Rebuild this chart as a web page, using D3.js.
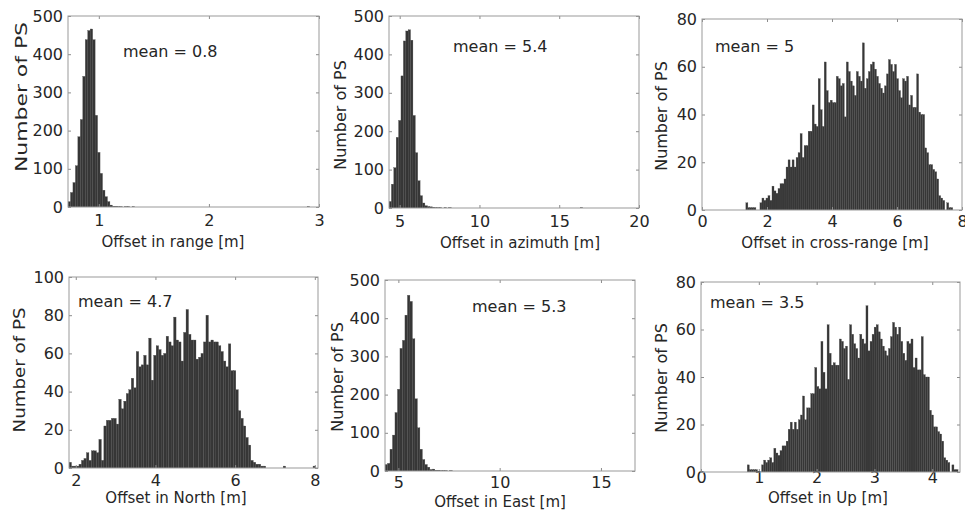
<!DOCTYPE html>
<html>
<head>
<meta charset="utf-8">
<script src="https://cdn.jsdelivr.net/npm/d3@7"></script>
<style>
  body { margin: 0; background: #fff; }
  text { font-family: "DejaVu Sans", sans-serif; fill: #262626; }
</style>
</head>
<body>
<svg id="chart" width="965" height="516"></svg>
<script>
// histogram counts, one value per bin
const rangeCounts = [14, 38, 64, 108, 184, 229, 342, 438, 462, 466, 438, 240, 143, 88, 44, 27, 14, 5, 2, 2,
  1, 1, 0, 1, 1, 0, 1, 0, 0, 0, 0, 0, 0, 0, 0, 0, 0, 0, 0, 0,
  0, 0, 0, 0, 0, 0, 0, 0, 0, 0, 0, 0, 0, 0, 0, 0, 0, 0, 0, 0,
  0, 0, 0, 0, 0, 0, 0, 0, 0, 0, 0, 0, 0, 0, 0, 0, 0, 0, 0, 0,
  0, 0, 0, 0, 0, 0, 0, 0, 0, 0, 0, 0, 0, 0, 0, 0, 0, 1, 0, 0];
const azimuthCounts = [17, 62, 105, 184, 228, 344, 435, 461, 464, 437, 241, 144, 71, 32, 13, 6, 4, 3, 2, 1,
  1, 1, 0, 1, 0, 1, 0, 0, 0, 0, 0, 0, 0, 0, 0, 0, 0, 0, 0, 0,
  0, 0, 0, 0, 0, 0, 0, 0, 0, 0, 0, 0, 0, 0, 0, 0, 0, 0, 0, 0,
  0, 0, 0, 0, 0, 0, 0, 0, 0, 0, 0, 0, 0, 0, 0, 0, 0, 0, 0, 0,
  1, 0, 0, 0, 0, 0, 0, 0, 0, 0, 0, 0, 0, 0, 0, 0, 0, 0, 0, 0];
const crossCounts = [3, 1, 1, 1, 1, 0, 0, 3, 5, 4, 5, 6, 4, 10, 8, 7, 9, 11, 11, 13,
  18, 21, 18, 21, 18, 22, 24, 32, 22, 27, 27, 33, 33, 44, 36, 35, 55, 42, 35, 62,
  50, 45, 46, 45, 45, 56, 55, 52, 53, 39, 62, 58, 54, 52, 48, 58, 56, 54, 70, 51,
  55, 58, 61, 62, 59, 56, 53, 51, 49, 52, 57, 63, 61, 58, 61, 55, 50, 47, 55, 54,
  56, 44, 48, 43, 43, 57, 41, 40, 40, 26, 24, 19, 19, 17, 16, 13, 6, 5, 4, 0,
  3, 1, 1];
const northCounts = [3, 1, 1, 1, 2, 4, 5, 8, 4, 9, 9, 8, 15, 4, 22, 25, 25, 26, 26, 23,
  36, 31, 35, 39, 41, 47, 42, 61, 53, 54, 59, 54, 68, 46, 59, 64, 62, 59, 60, 69,
  66, 64, 79, 67, 66, 56, 71, 83, 70, 67, 67, 57, 58, 60, 66, 80, 66, 67, 66, 66,
  64, 61, 56, 53, 65, 51, 51, 41, 30, 26, 22, 16, 12, 4, 3, 2, 2, 1, 1, 0,
  0, 0, 0, 0, 0, 0, 1, 0, 0, 0, 0, 0, 0, 0, 0, 0, 0, 0, 1, 0];
const eastCounts = [17, 20, 57, 94, 153, 214, 321, 342, 408, 460, 444, 346, 189, 113, 57, 30, 17, 10, 4, 5,
  2, 2, 1, 1, 1, 0, 1, 0, 0, 0, 0, 0, 0, 0, 0, 0, 0, 0, 0, 0,
  0, 0, 0, 0, 0, 0, 0, 0, 0, 0, 0, 0, 0, 0, 0, 0, 0, 0, 0, 0,
  0, 0, 0, 0, 0, 0, 0, 0, 0, 0, 0, 0, 0, 0, 0, 0, 0, 0, 0, 0,
  0, 0, 0, 0, 0, 0, 0, 0, 0, 0, 0, 0, 0, 0, 0, 0, 0, 0, 0, 0];
const upCounts = [3, 1, 1, 1, 1, 0, 0, 3, 5, 4, 5, 6, 4, 10, 8, 7, 9, 11, 11, 13,
  18, 21, 18, 21, 18, 22, 24, 32, 22, 27, 27, 33, 33, 44, 36, 35, 55, 42, 35, 62,
  50, 45, 46, 45, 45, 56, 55, 52, 53, 39, 62, 58, 54, 52, 48, 58, 56, 54, 70, 51,
  55, 58, 61, 62, 59, 56, 53, 51, 49, 52, 57, 63, 61, 58, 61, 55, 50, 47, 55, 54,
  56, 44, 48, 43, 43, 57, 41, 40, 40, 26, 24, 19, 19, 17, 16, 13, 6, 5, 4, 0,
  3, 1, 1];

// first bin edge and bin width [m]
const binStarts = [0.72, 4.33, 1.35, 1.83, 4.34, 0.8];
const binWidths = [0.0224, 0.15, 0.0618, 0.0625, 0.123, 0.0354];

// axis limits and ticks
const xDomains = [[0.72, 3], [4.33, 20], [0, 8], [1.83, 8.08], [4.34, 16.68], [0, 4.48]];
const xTicks = [[1, 2, 3], [5, 10, 15, 20], [0, 2, 4, 6, 8], [2, 4, 6, 8], [5, 10, 15], [0, 1, 2, 3, 4]];
const yMaxes = [500, 500, 80, 100, 500, 80];
const yTicks = [d3.range(0, 501, 100), d3.range(0, 501, 100), d3.range(0, 81, 20),
  d3.range(0, 101, 20), d3.range(0, 501, 100), d3.range(0, 81, 20)];

const xLabels = ["Offset in range [m]", "Offset in azimuth [m]", "Offset in cross-range [m]",
  "Offset in North [m]", "Offset in East [m]", "Offset in Up [m]"];
const meanLabels = ["mean = 0.8", "mean = 5.4", "mean = 5", "mean = 4.7", "mean = 5.3", "mean = 3.5"];
const allCounts = [rangeCounts, azimuthCounts, crossCounts, northCounts, eastCounts, upCounts];

// page layout measured from the figure (boxes + label anchors)
// xl = x label centre/baseline, yl = y label baseline/centre, ylen = y label length, pad = x tick label padding
const layout = [
  { l: 68, r: 319, t: 16, b: 207, xl: [173, 247], yl: [27, 97], ylen: 150, pad: 8, mean: [123, 57] },
  { l: 389, r: 639, t: 16, b: 208, xl: [520, 248], yl: [346, 115], ylen: 0, pad: 8, mean: [453, 52] },
  { l: 702, r: 962, t: 19, b: 210, xl: [835, 248], yl: [667, 116], ylen: 0, pad: 5.5, mean: [715, 52] },
  { l: 69, r: 318, t: 277, b: 468, xl: [176, 503], yl: [25, 370], ylen: 125, pad: 7, mean: [78, 307] },
  { l: 385, r: 635, t: 280, b: 471, xl: [500, 507], yl: [343, 377], ylen: 0, pad: 6, mean: [472, 312] },
  { l: 701, r: 960, t: 282, b: 472, xl: [828, 503], yl: [667, 378], ylen: 0, pad: 0, mean: [710, 308] }
];

const svg = d3.select("#chart");
const tickLen = 3;

layout.forEach(function (p, k) {
  const x = d3.scaleLinear().domain(xDomains[k]).range([p.l, p.r]);
  const y = d3.scaleLinear().domain([0, yMaxes[k]]).range([p.b, p.t]);
  const g = svg.append("g");

  g.append("clipPath").attr("id", "clip" + k)
    .append("rect").attr("x", p.l).attr("y", p.t).attr("width", p.r - p.l).attr("height", p.b - p.t);

  const bins = allCounts[k].map((c, i) => ({
    x0: binStarts[k] + i * binWidths[k],
    x1: binStarts[k] + (i + 1) * binWidths[k],
    c: c
  })).filter(d => d.c > 0);

  g.append("g").attr("clip-path", "url(#clip" + k + ")")
    .selectAll("rect").data(bins).join("rect")
    .attr("x", d => x(d.x0))
    .attr("width", d => x(d.x1) - x(d.x0))
    .attr("y", d => y(d.c))
    .attr("height", d => y(0) - y(d.c))
    .attr("fill", "#363636")
    .attr("stroke", "#4a4a4a")
    .attr("stroke-width", 0.3);

  // ticks inward on all four sides, labels only bottom/left
  g.append("g").attr("transform", `translate(0,${p.b})`)
    .call(d3.axisBottom(x).tickValues(xTicks[k]).tickSize(-tickLen).tickPadding(p.pad).tickFormat(d3.format("d")));
  g.append("g").attr("transform", `translate(0,${p.t})`)
    .call(d3.axisTop(x).tickValues(xTicks[k]).tickSize(-tickLen).tickFormat(""));
  g.append("g").attr("transform", `translate(${p.l},0)`)
    .call(d3.axisLeft(y).tickValues(yTicks[k]).tickSize(-tickLen).tickPadding(5).tickFormat(d3.format("d")));
  g.append("g").attr("transform", `translate(${p.r},0)`)
    .call(d3.axisRight(y).tickValues(yTicks[k]).tickSize(-tickLen).tickFormat(""));

  g.selectAll(".domain").remove();
  g.selectAll(".tick line").attr("stroke", "#8c8c8c");
  g.selectAll(".tick text").attr("font-size", 16).attr("font-family", "DejaVu Sans").attr("fill", "#262626");

  g.append("rect")
    .attr("x", p.l).attr("y", p.t)
    .attr("width", p.r - p.l).attr("height", p.b - p.t)
    .attr("fill", "none").attr("stroke", "#999").attr("stroke-width", 1);

  g.append("text")
    .attr("x", p.xl[0]).attr("y", p.xl[1])
    .attr("text-anchor", "middle").attr("font-size", 15)
    .text(xLabels[k]);

  const yl = g.append("text")
    .attr("transform", `translate(${p.yl[0]},${p.yl[1]}) rotate(-90)`)
    .attr("text-anchor", "middle").attr("font-size", 16)
    .text("Number of PS");
  // a couple of panels have a stretched y label in the source figure
  if (p.ylen) yl.attr("textLength", p.ylen).attr("lengthAdjust", "spacingAndGlyphs");

  g.append("text")
    .attr("x", p.mean[0]).attr("y", p.mean[1])
    .attr("font-size", 16)
    .text(meanLabels[k]);
});
</script>
</body>
</html>
